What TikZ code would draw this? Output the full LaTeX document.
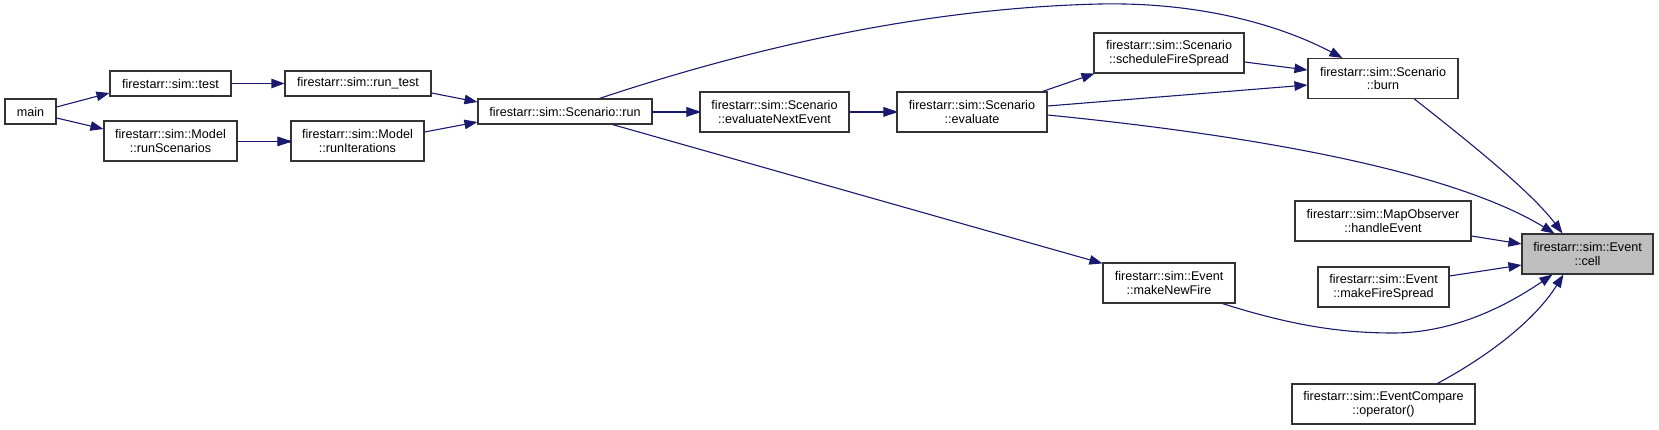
\documentclass[tikz,border=0pt]{standalone}
\usepackage{fontspec}
\setmainfont{Liberation Sans}
\usetikzlibrary{arrows.meta,calc}
\definecolor{edgeblue}{HTML}{191970}
\definecolor{cellgray}{HTML}{BFBFBF}
\newcommand{\tipfan}[1]{\foreach \k in {-4.2,-3.4,...,4.3} {\draw[edgeblue, line width=1.1pt] (#1) -- ++(-12.5,\k);}}
\begin{document}
\begin{tikzpicture}[x=1pt,y=-1pt,
  fbox/.style={draw=black!80, line width=1.1pt, inner sep=0pt, align=center,
    font=\fontsize{12.6}{13.8}\selectfont, text=black},
  one/.style={fbox, minimum height=25},
  two/.style={fbox, minimum height=40},
  call/.style={draw=edgeblue, line width=1.1pt, -{Triangle[length=13pt,width=9.5pt]}}]
\useasboundingbox (0,0) rectangle (1659,430);

% nodes
\node[one, minimum width=51] (main) at (30.5,111.5) {main};
\node[one, minimum width=121] (test) at (170.5,83.5) {firestarr::sim::test};
\node[one, minimum width=146] (runtest) at (358,83.5) {firestarr::sim::run\_test};
\node[two, minimum width=133] (runsc) at (170.5,141) {firestarr::sim::Model\\::runScenarios};
\node[two, minimum width=133] (runit) at (357.5,141) {firestarr::sim::Model\\::runIterations};
\node[one, minimum width=174] (run) at (565,111.5) {firestarr::sim::Scenario::run};
\node[two, minimum width=149] (ene) at (774.5,112) {firestarr::sim::Scenario\\::evaluateNextEvent};
\node[two, minimum width=150] (eval) at (972,112) {firestarr::sim::Scenario\\::evaluate};
\node[two, minimum width=150] (sfs) at (1169,53) {firestarr::sim::Scenario\\::scheduleFireSpread};
\node[two, minimum width=150] (burn) at (1383,78.5) {firestarr::sim::Scenario\\::burn};
\node[two, minimum width=176] (handle) at (1383,221) {firestarr::sim::MapObserver\\::handleEvent};
\node[two, minimum width=131, fill=cellgray] (cell) at (1587.5,254) {firestarr::sim::Event\\::cell};
\node[two, minimum width=132] (mnf) at (1169,283) {firestarr::sim::Event\\::makeNewFire};
\node[two, minimum width=131] (mfs) at (1383.5,287) {firestarr::sim::Event\\::makeFireSpread};
\node[two, minimum width=183] (oper) at (1383.5,404) {firestarr::sim::EventCompare\\::operator()};

% connectors
\draw[call] ($(main.east)+(0,-4.5)$) -- ($(test.west)+(0,9.5)$);
\draw[call] ($(main.east)+(0,6.5)$) -- ($(runsc.west)+(0,-12)$);
\draw[call] (test.east) -- (runtest.west);
\draw[call] ($(runsc.east)+(0,0.5)$) -- ($(runit.west)+(0,0.5)$);
\tipfan{$(runit.west)+(0,0.5)$}
\draw[call] ($(runtest.east)+(0,9.5)$) -- ($(run.west)+(0,-9.5)$);
\draw[call] ($(runit.east)+(0,-9)$) -- ($(run.west)+(0,10.5)$);
\draw[call] ($(run.east)+(0,0.5)$) -- ($(ene.west)+(0,0)$);
\tipfan{$(ene.west)+(0,0)$}
\draw[call] ($(ene.east)+(0,0)$) -- ($(eval.west)+(0,0)$);
\tipfan{$(eval.west)+(0,0)$}
\draw[call] ($(run.north west)+(122,0)$) .. controls (760,45) and (930,8) .. (1100,4)
  .. controls (1200,2) and (1280,25) .. ($(burn.north west)+(35,0)$);
\draw[call] ($(run.south west)+(135,0)$) -- ($(mnf.north west)+(0,1)$);
\draw[call] ($(eval.north east)+(-5,0)$) -- ($(sfs.south west)+(1,0)$);
\draw[call] ($(eval.east)+(0,-6)$) -- ($(burn.west)+(0,6.5)$);
\draw[call] ($(eval.east)+(0,3)$) .. controls (1250,135) and (1450,170) .. ($(cell.north west)+(33,0)$);
\draw[call] ($(sfs.east)+(0,9)$) -- ($(burn.west)+(0,-8.5)$);
\draw[call] ($(burn.south west)+(107,0)$) .. controls (1460,135) and (1530,190) .. ($(cell.north west)+(41,0)$);
\draw[call] ($(handle.east)+(0,15)$) -- ($(cell.west)+(0,-10)$);
\draw[call] ($(mfs.east)+(0,-11)$) -- ($(cell.west)+(0,11)$);
\draw[call] ($(mnf.south west)+(120,0)$) .. controls (1290,325) and (1340,333) .. (1393,333)
  .. controls (1460,333) and (1515,300) .. ($(cell.south west)+(31,0)$);
\draw[call] ($(oper.north west)+(146,0)$) .. controls (1490,355) and (1535,320) .. ($(cell.south west)+(42,0)$);
\end{tikzpicture}
\end{document}
